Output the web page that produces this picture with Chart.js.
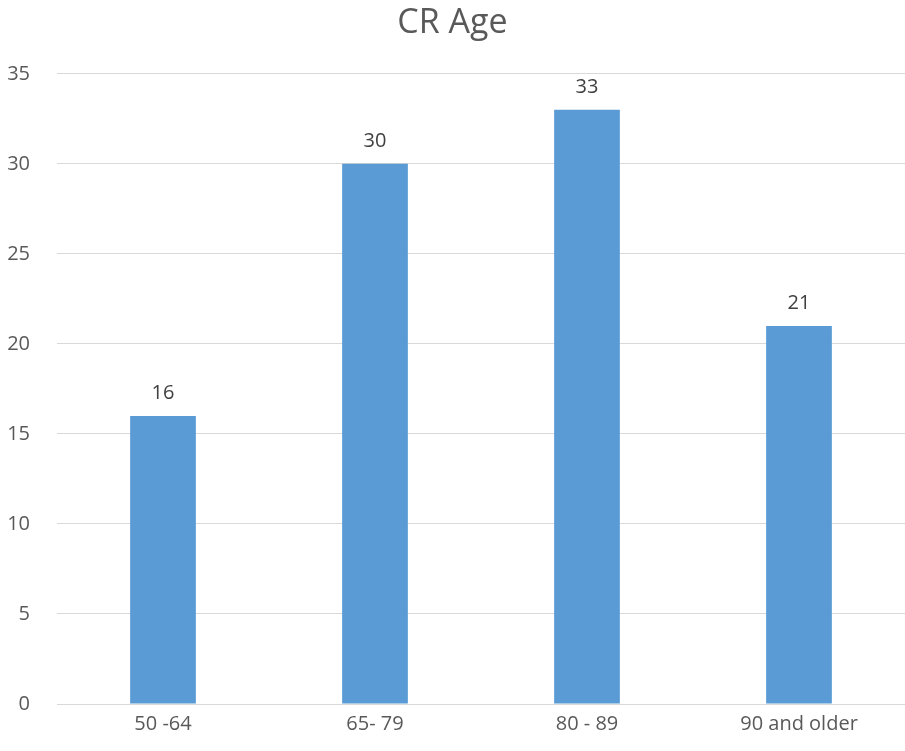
<!DOCTYPE html>
<html lang="en">
<head>
  <meta charset="UTF-8">
  <title>CR Age</title>
  <script src="https://cdn.jsdelivr.net/npm/chart.js"></script>
  <style>
    html, body { margin: 0; padding: 0; background: #fff; }
    #wrap { width: 905px; height: 751px; }
  </style>
</head>
<body>
  <div id="wrap"><canvas id="ageChart"></canvas></div>

  <script>
    // chart data
    const ageGroups = ['50 -64', '65- 79', '80 - 89', '90 and older'];
    const counts = [16, 30, 33, 21];
    const yTicks = { min: 0, max: 35, step: 5 };

    // draws the value above each bar
    const barValues = {
      id: 'barValues',
      afterDatasetsDraw(chart) {
        const ctx = chart.ctx;
        const meta = chart.getDatasetMeta(0);
        ctx.save();
        ctx.font = '20px "Open Sans", sans-serif';
        ctx.fillStyle = '#404040';
        ctx.textAlign = 'center';
        ctx.textBaseline = 'alphabetic';
        meta.data.forEach((bar, i) => {
          ctx.fillText(String(chart.data.datasets[0].data[i]), bar.x, bar.y - 17);
        });
        ctx.restore();
      }
    };

    const ctx = document.getElementById('ageChart').getContext('2d');
    new Chart(ctx, {
      type: 'bar',
      data: {
        labels: ageGroups,
        datasets: [{
          label: 'CR Age',
          data: counts,
          backgroundColor: '#5B9BD5',
          barPercentage: 0.31,
          categoryPercentage: 1.0
        }]
      },
      options: {
        responsive: true,
        maintainAspectRatio: false,
        animation: false,
        layout: { padding: 0 },
        plugins: {
          legend: { display: false },
          tooltip: { enabled: false },
          title: {
            display: true,
            text: 'CR Age',
            color: '#595959',
            font: { family: '"Open Sans", sans-serif', size: 34, weight: 'normal' },
            padding: { top: 3, bottom: 30 }
          }
        },
        scales: {
          x: {
            grid: { display: false, drawTicks: false },
            border: { color: '#d9d9d9' },
            ticks: {
              color: '#595959',
              font: { family: '"Open Sans", sans-serif', size: 20 },
              padding: 8,
              maxRotation: 0
            },
            afterFit(scale) { scale.height = 47; }
          },
          y: {
            min: yTicks.min,
            max: yTicks.max,
            grid: { color: '#d9d9d9', drawTicks: false },
            border: { display: false },
            ticks: {
              stepSize: yTicks.step,
              color: '#595959',
              font: { family: '"Open Sans", sans-serif', size: 20 },
              padding: 27
            },
            afterFit(scale) { scale.width = 57; }
          }
        }
      },
      plugins: [barValues]
    });
  </script>
</body>
</html>
